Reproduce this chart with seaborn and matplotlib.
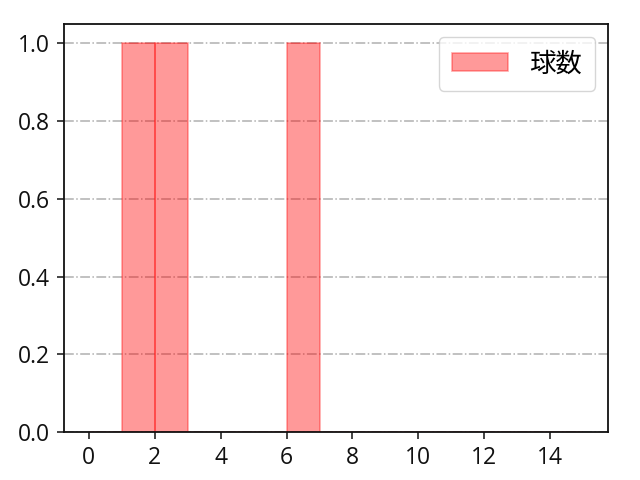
import numpy as np
import pandas as pd
import seaborn as sns
import matplotlib
matplotlib.use('Agg')
import matplotlib.pyplot as plt

# --- dados ---
valores = [1, 2, 6]
bins = list(range(0, 16))
rotulo = '球数'

sns.set_style('ticks')
plt.rcParams['font.family'] = ['Open Sans', 'Noto Sans CJK JP']
for k in ['text.color', 'axes.labelcolor', 'xtick.color', 'ytick.color', 'axes.edgecolor']:
    plt.rcParams[k] = 'black'

df = pd.DataFrame({'v': valores})

fig, ax = plt.subplots(figsize=(6.4, 4.8), dpi=100)
sns.histplot(data=df, x='v', bins=bins, color='red', alpha=0.4,
             edgecolor=(1, 0, 0, 0.35), linewidth=1.2, label=rotulo, ax=ax)
ax.set_xlim(-0.75, 15.75)
ax.set_ylim(0, 1.05)
ax.set_xticks(range(0, 15, 2))
ax.set_yticks(np.arange(0, 1.01, 0.2))
ax.grid(axis='y', linestyle='-.', color='#b0b0b0', linewidth=1.1)
ax.set_axisbelow(True)
ax.set_xlabel('')
ax.set_ylabel('')
for s in ax.spines.values():
    s.set_linewidth(1.3)
    s.set_color('#111111')
ax.tick_params(labelsize=16.5, length=5, width=1.1, pad=5, colors='#111111')
ax.legend(loc='upper right', handlelength=2.1, borderpad=0.5,
          prop={'family': ['Noto Sans CJK JP'], 'size': 19})
plt.subplots_adjust(left=0.1, right=0.95, top=0.95, bottom=0.1)
plt.savefig('out.png')
